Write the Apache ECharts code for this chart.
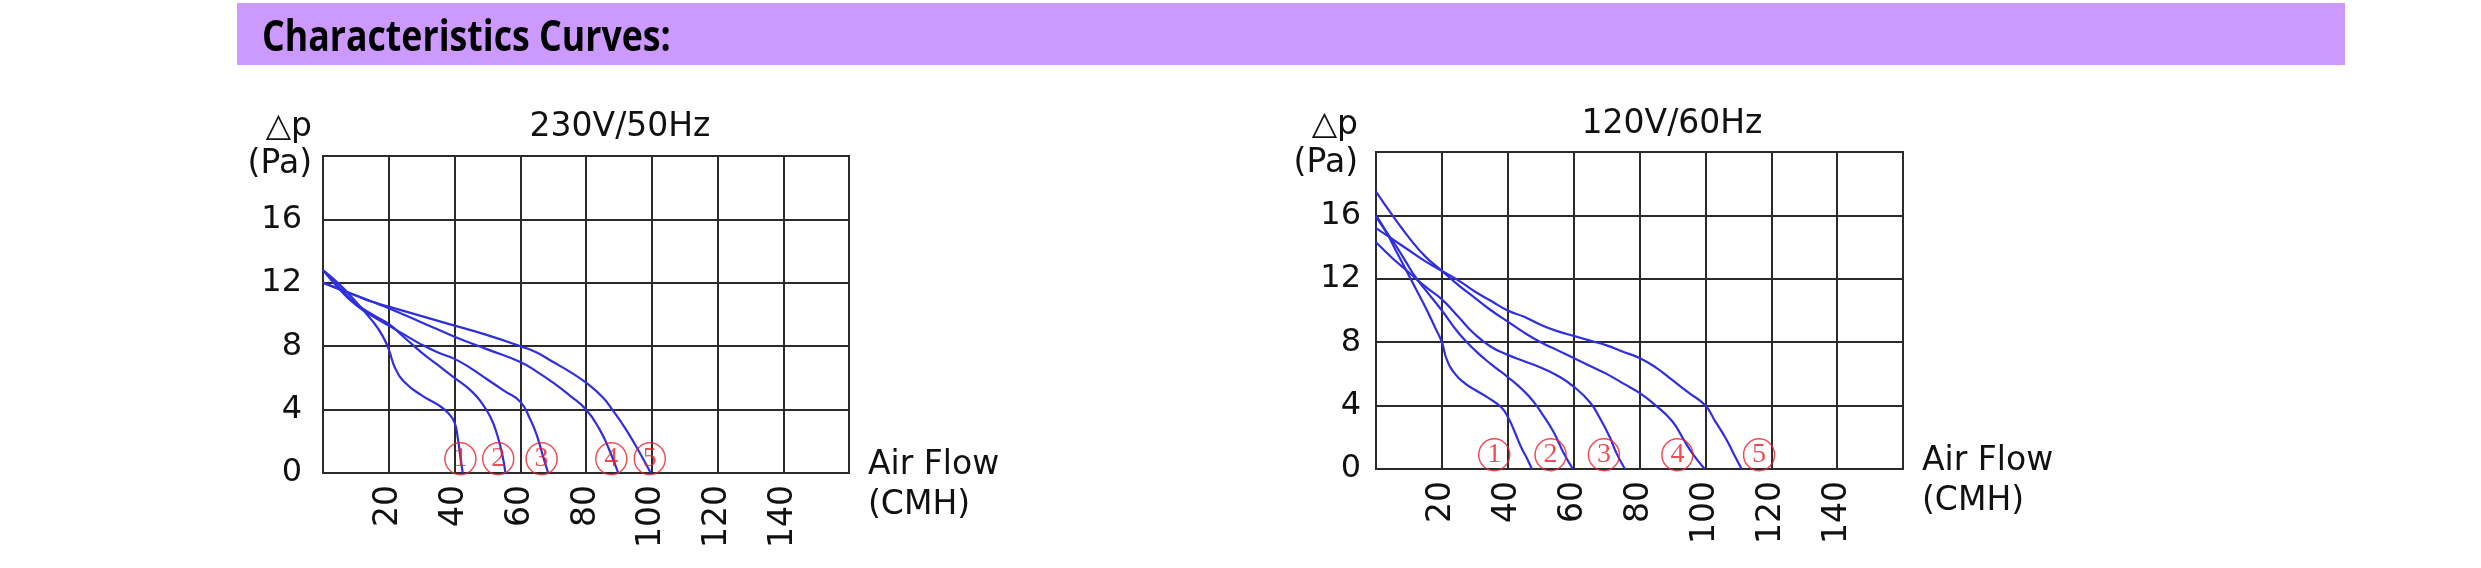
<!DOCTYPE html>
<html>
<head>
<meta charset="utf-8">
<script src="https://cdn.jsdelivr.net/npm/echarts@6/dist/echarts.min.js"></script>
<style>
html,body{margin:0;padding:0;background:#fff;}
#chart{width:2481px;height:568px;}
</style>
</head>
<body>
<div id="chart"></div>
<script>
// ---- data (x = Air Flow CMH, y = Δp Pa) ----
const xTickLabels = [20, 40, 60, 80, 100, 120, 140];
const yTickLabels = [0, 4, 8, 12, 16];
const curveNames = ['1', '2', '3', '4', '5'];

// 230V/50Hz
const left1 = [[0,12.8],[5,11.9],[10,10.8],[15,9.6],[18,8.7],[20,7.8],[22,6.6],[25,5.7],[30,4.9],[35,4.3],[38,3.8],[40,3.2],[41,2.2],[41.8,1.0],[42.5,0]];
const left2 = [[0,12.8],[5,11.7],[10,10.7],[15,10.0],[20,9.4],[25,8.5],[30,7.6],[35,6.8],[40,6.0],[45,5.2],[48,4.5],[51,3.5],[53,2.4],[54.5,1.2],[55.5,0]];
const left3 = [[0,12.8],[5,11.6],[10,10.6],[15,9.9],[20,9.3],[25,8.7],[30,8.1],[35,7.6],[40,7.2],[45,6.6],[50,5.9],[55,5.2],[60,4.5],[63,3.4],[65,2.4],[67,1.0],[68.5,0]];
const left4 = [[0,12.0],[5,11.6],[10,11.2],[15,10.8],[20,10.4],[30,9.5],[40,8.6],[50,7.8],[60,7.0],[65,6.4],[70,5.7],[75,4.9],[80,4.0],[84,2.8],[87,1.5],[89.8,0]];
const left5 = [[0,12.0],[5,11.6],[10,11.2],[15,10.8],[20,10.5],[30,9.9],[40,9.3],[50,8.7],[60,8.0],[65,7.6],[70,7.0],[75,6.4],[80,5.7],[85,4.8],[88,4.0],[92,2.8],[96,1.4],[99.7,0]];
const leftCircleX = [41.8, 53.3, 66.5, 87.7, 99.4];

// 120V/60Hz
const right1 = [[0,16.0],[3,15.0],[6,13.8],[9,12.6],[12,11.4],[15,10.2],[18,8.9],[20,8.0],[21.5,6.9],[24,6.0],[27,5.4],[30,5.0],[34,4.5],[38,3.9],[40,3.3],[42,2.4],[44,1.4],[46,0.6],[47.3,0]];
const right2 = [[0,15.9],[3,15.0],[6,14.1],[9,13.1],[12,12.1],[15,11.3],[20,10.0],[25,8.6],[30,7.5],[35,6.6],[40,5.8],[45,4.9],[48,4.2],[51,3.3],[54,2.3],[57,1.0],[59.8,0]];
const right3 = [[0,14.3],[5,13.3],[10,12.4],[15,11.5],[20,10.7],[25,9.6],[30,8.5],[35,7.7],[40,7.2],[45,6.8],[50,6.4],[55,5.9],[60,5.2],[65,4.2],[68,3.2],[71,2.0],[73,1.0],[75.6,0]];
const right4 = [[0,17.5],[5,16.0],[10,14.6],[15,13.4],[20,12.5],[25,11.6],[30,10.8],[35,10.0],[40,9.3],[45,8.6],[50,8.0],[55,7.5],[60,7.0],[65,6.5],[70,6.0],[75,5.4],[80,4.8],[85,4.0],[90,3.0],[93,2.0],[96,1.0],[99.8,0]];
const right5 = [[0,15.2],[5,14.5],[10,13.8],[15,13.1],[20,12.5],[25,11.9],[30,11.2],[35,10.6],[40,10.0],[45,9.6],[50,9.1],[55,8.7],[60,8.4],[65,8.1],[70,7.8],[75,7.4],[80,7.0],[85,6.4],[90,5.6],[95,4.8],[100,4.0],[103,3.0],[106,2.0],[108.5,1.0],[111,0]];
const rightCircleX = [35.9, 53.0, 69.2, 91.5, 116.3];
const circleRowY = 0.9;

const leftCurves = [left1, left2, left3, left4, left5];
const rightCurves = [right1, right2, right3, right4, right5];

// ---- styling ----
const FONT = '"DejaVu Sans","Open Sans",sans-serif';
const GRIDC = '#2b2b2b';
const BLUE = '#2f2fdc';
const RED = '#e8202a';

function xAxisCfg(gi) {
  return {
    type: 'value', gridIndex: gi, min: 0, max: 160, interval: 20,
    axisLine: { show: true, lineStyle: { color: GRIDC, width: 2 } },
    axisTick: { show: false },
    splitLine: { show: true, lineStyle: { color: GRIDC, width: 2 } },
    axisLabel: {
      rotate: 90, margin: 12, fontSize: 33, color: '#111', fontFamily: FONT,
      formatter: v => xTickLabels.includes(v) ? String(v) : ''
    }
  };
}
function yAxisCfg(gi, margin) {
  return {
    type: 'value', gridIndex: gi, min: 0, max: 20, interval: 4,
    axisLine: { show: true, lineStyle: { color: GRIDC, width: 2 } },
    axisTick: { show: false },
    splitLine: { show: true, lineStyle: { color: GRIDC, width: 2 } },
    axisLabel: {
      margin: margin, fontSize: 32, color: '#111', fontFamily: FONT,
      formatter: v => yTickLabels.includes(v) ? String(v) : ''
    }
  };
}
function curveSeries(data, gi) {
  return {
    type: 'line', xAxisIndex: gi, yAxisIndex: gi, data: data,
    smooth: 0.5, symbol: 'none',
    lineStyle: { color: BLUE, width: 2.2 }, silent: true, animation: false
  };
}
function circleSeries(xs, gi) {
  return {
    type: 'scatter', xAxisIndex: gi, yAxisIndex: gi,
    data: xs.map((x, i) => ({ value: [x, circleRowY], name: curveNames[i] })),
    symbol: 'circle', symbolSize: [31, 32],
    itemStyle: { color: 'rgba(255,255,255,0)', borderColor: RED, borderWidth: 1.5, opacity: 0.8 },
    label: { show: true, position: 'inside', formatter: p => p.name, color: RED,
             fontSize: 28, fontFamily: '"Liberation Serif","DejaVu Serif",serif' },
    silent: true, animation: false, z: 5
  };
}

const chart = echarts.init(document.getElementById('chart'), null, { renderer: 'canvas' });
const series = [];
leftCurves.forEach(c => series.push(curveSeries(c, 0)));
rightCurves.forEach(c => series.push(curveSeries(c, 1)));
series.push(circleSeries(leftCircleX, 0));
series.push(circleSeries(rightCircleX, 1));

const txt = (x, y, text, size, extra) => Object.assign({
  type: 'text', x: x, y: y,
  style: Object.assign({ text: text, font: size + 'px ' + FONT, fill: '#111', verticalAlign: 'middle' }, extra || {})
});

chart.setOption({
  backgroundColor: '#fff',
  animation: false,
  grid: [
    { left: 323, top: 156, width: 526, height: 317, show: true, borderColor: GRIDC, borderWidth: 2, backgroundColor: 'transparent' },
    { left: 1376, top: 152, width: 527, height: 317, show: true, borderColor: GRIDC, borderWidth: 2, backgroundColor: 'transparent' }
  ],
  xAxis: [xAxisCfg(0), xAxisCfg(1)],
  yAxis: [yAxisCfg(0, 21), yAxisCfg(1, 15)],
  series: series,
  graphic: [
    { type: 'rect', shape: { x: 237, y: 3, width: 2108, height: 62 }, style: { fill: '#cc99ff' }, z: 0 },
    { type: 'text', x: 262, y: 39, scaleX: 0.83,
      style: { text: 'Characteristics Curves:', font: 'bold 43px "Open Sans",sans-serif', fill: '#000', verticalAlign: 'middle' }, z: 1 },
    txt(620, 127, '230V/50Hz', 33, { align: 'center' }),
    txt(1672, 124, '120V/60Hz', 33, { align: 'center' }),
    txt(312, 127, '△p', 33, { align: 'right' }),
    txt(312, 164, '(Pa)', 33, { align: 'right' }),
    txt(1358, 125, '△p', 33, { align: 'right' }),
    txt(1358, 163, '(Pa)', 33, { align: 'right' }),
    txt(868, 465, 'Air Flow', 33, { align: 'left' }),
    txt(868, 505, '(CMH)', 33, { align: 'left' }),
    txt(1922, 461, 'Air Flow', 33, { align: 'left' }),
    txt(1922, 501, '(CMH)', 33, { align: 'left' })
  ]
});
</script>
</body>
</html>
